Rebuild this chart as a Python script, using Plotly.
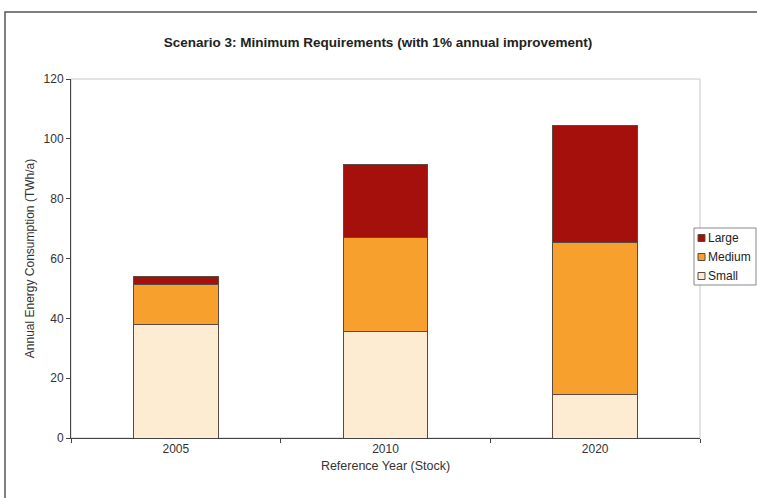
import plotly.graph_objects as go

# Reference years (stock) and energy consumption by appliance size, TWh/a
years = ["2005", "2010", "2020"]
small = [37.8, 35.6, 14.4]
medium = [13.5, 31.5, 50.9]
large = [2.8, 24.4, 39.3]

series = [
    ("Small", small, "#FDEBD2"),
    ("Medium", medium, "#F7A02E"),
    ("Large", large, "#A6100C"),
]

W, H = 757, 498
L, R, T, B = 71, 57, 79, 60
EDGE = "#5A4A42"

fig = go.Figure()
for name, vals, color in series:
    fig.add_trace(go.Bar(
        x=years, y=vals, name=name, showlegend=False,
        marker=dict(color=color, line=dict(color=EDGE, width=1)),
    ))

pw = W - L - R
ph = H - T - B

def px_x(p):
    return (p - L) / pw

def px_y(p):
    return (H - B - p) / ph

shapes = [
    # light frame around the plot area
    dict(type="rect", xref="paper", yref="paper", x0=0, x1=1, y0=0, y1=1,
         line=dict(color="#C8C8C8", width=1), layer="below"),
    # outer chart border
    dict(type="rect", xref="paper", yref="paper",
         x0=px_x(5), x1=px_x(762), y0=px_y(503), y1=px_y(12),
         line=dict(color="#555555", width=1.5), layer="below"),
    # compact legend box
    dict(type="rect", xref="paper", yref="paper",
         x0=px_x(694), x1=px_x(756), y0=px_y(285), y1=px_y(228),
         line=dict(color="#888888", width=1), fillcolor="white", layer="above"),
]
annotations = []

# legend entries, largest size class on top
row_y = [238, 257, 276]
for (name, _, color), cy in zip(reversed(series), row_y):
    shapes.append(dict(
        type="rect", xref="paper", yref="paper",
        x0=px_x(698), x1=px_x(705), y0=px_y(cy + 3.5), y1=px_y(cy - 3.5),
        line=dict(color=EDGE, width=1), fillcolor=color, layer="above",
    ))
    annotations.append(dict(
        xref="paper", yref="paper", x=px_x(706), y=px_y(cy),
        xanchor="left", yanchor="middle", showarrow=False,
        text=name, font=dict(size=12, color="#222222"),
    ))

fig.update_layout(
    width=W, height=H,
    margin=dict(l=L, r=R, t=T, b=B, autoexpand=False),
    barmode="stack",
    bargap=0.595,
    paper_bgcolor="white",
    plot_bgcolor="white",
    font=dict(family="Liberation Sans, Arial, sans-serif", size=12, color="#333333"),
    title=dict(
        text="<b>Scenario 3: Minimum Requirements (with 1% annual improvement)</b>",
        xref="container", x=378 / W, xanchor="center",
        y=1 - 42 / H, yanchor="middle",
        font=dict(size=13.5, color="#222222"),
    ),
    xaxis=dict(
        type="category",
        showline=True, linecolor="#444444", linewidth=1,
        ticks="outside", tickson="boundaries", ticklen=4, tickcolor="#444444",
        showgrid=False,
        title=dict(text="Reference Year (Stock)", standoff=5, font=dict(size=12.5)),
        tickfont=dict(size=12),
    ),
    yaxis=dict(
        range=[0, 120], dtick=20,
        showline=True, linecolor="#444444", linewidth=1,
        ticks="outside", ticklen=4, tickcolor="#444444",
        showgrid=False, zeroline=False,
        title=dict(text="Annual Energy Consumption (TWh/a)", standoff=6, font=dict(size=12)),
        tickfont=dict(size=12),
    ),
    shapes=shapes,
    annotations=annotations,
)

fig.write_html("out.html")
